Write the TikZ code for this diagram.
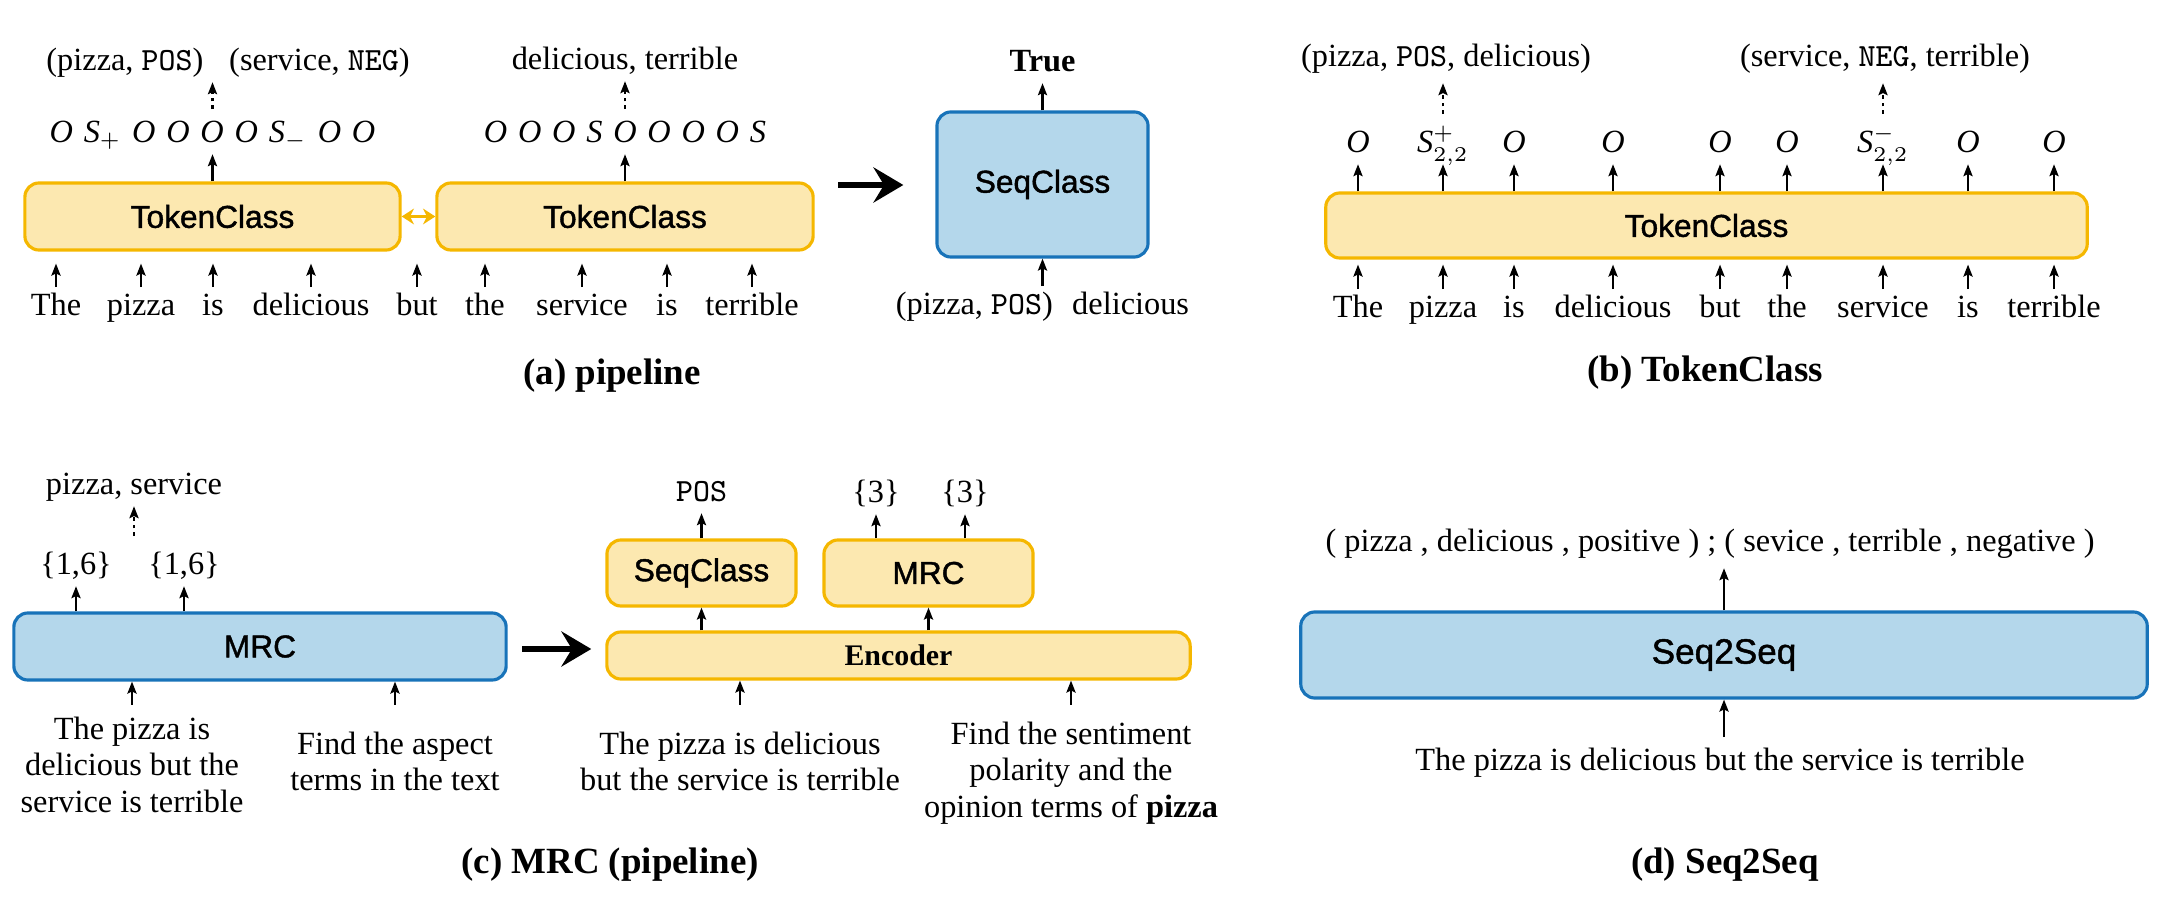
\documentclass[tikz,border=0pt]{standalone}
\usepackage{fontspec}
\setmainfont{Liberation Serif}
\newfontfamily\boxfont[FakeBold=1.3]{Liberation Sans}
\usetikzlibrary{arrows.meta, positioning, calc}

\definecolor{tokfill}{HTML}{FCE8B0}
\definecolor{tokdraw}{HTML}{F5B700}
\definecolor{seqfill}{HTML}{B4D7EB}
\definecolor{seqdraw}{HTML}{1873B9}
\newcommand{\txtsize}{\fontsize{9.2}{10.4}\selectfont}

\begin{document}
\begin{tikzpicture}[x=0.01cm, y=-0.01cm,
    txt/.style={font=\txtsize, inner sep=1pt, text height=7pt, text depth=2pt, anchor=base},
    para/.style={font=\txtsize, align=center, inner sep=0pt, anchor=north},
    captxt/.style={font=\bfseries\fontsize{10.5}{12}\selectfont, anchor=base},
    ybox/.style={draw=tokdraw, fill=tokfill, line width=0.9pt, rounded corners=4pt,
      font=\boxfont\fontsize{9}{10}\selectfont, inner sep=0pt},
    bbox/.style={ybox, draw=seqdraw, fill=seqfill},
    up/.style={-{Stealth[length=3.4pt, width=2.6pt, inset=0.6pt]}, line width=0.6pt},
    dotup/.style={up, dash pattern=on 1.1pt off 1.1pt},
    bigarrow/.style={-{Stealth[length=8.5pt, width=10pt, inset=3pt]}, line width=1.5pt},
    dblarrow/.style={{Stealth[length=3.5pt, width=4.5pt]}-{Stealth[length=3.5pt, width=4.5pt]}, draw=tokdraw, line width=0.8pt}]
    \useasboundingbox (0,0) rectangle (2164,907);

    % (a) pipeline
    \node[ybox, minimum width=3.75cm, minimum height=0.67cm] (tcA) at (212.5,216.5) {TokenClass};
    \node[ybox, minimum width=3.76cm, minimum height=0.67cm] (tcB) at (625,216.5) {TokenClass};
    \draw[dblarrow] (tcA) -- (tcB);

    \foreach \w/\x [count=\i] in {The/56, pizza/141, is/213, delicious/311, but/417, the/485, service/582, is/667, terrible/752} {
      \node[txt] (wa\i) at (\x,316) {\w};
      \draw[up, shorten >=0.12cm] (wa\i.north) -- (wa\i.north |- tcA.south);
    }

    \node[txt] (tagA) at (212.5,143) {\textit{O\,\,S}$_+$\,\,\textit{O\,\,O\,\,O\,\,O\,\,S}$_-$\,\,\textit{O\,\,O}};
    \node[txt] (tagB) at (625,143) {\textit{O\,\,O\,\,O\,\,S\,\,O\,\,O\,\,O\,\,O\,\,S}};
    \draw[up] (tcA.north) -- (tagA.south);
    \draw[up] (tcB.north) -- (tagB.south);

    \node[txt] (outA) at (228,71) {(pizza, \texttt{POS})\hspace{0.8em}(service, \texttt{NEG})};
    \node[txt] (outB) at (625,70) {delicious, terrible};
    \draw[dotup, shorten <=0.05cm] (tagA.north) -- (tagA.north |- outA.south);
    \draw[dotup, shorten <=0.05cm] (tagB.north) -- (tagB.north |- outB.south);

    % sequence classifier on the right
    \coordinate (bigA) at (838,185);
    \node[bbox, minimum width=2.11cm, minimum height=1.45cm] (scA) at (1042.5,184.5) {SeqClass};
    \draw[bigarrow, shorten >=0.32cm] (bigA) -- (bigA -| scA.west);
    \node[txt, font=\txtsize\bfseries] (trueA) at (1042.5,72) {True};
    \draw[up] (scA.north) -- (trueA.south);
    \node[txt] (inA) at (1042.5,315) {(pizza, \texttt{POS})\hspace{0.6em}delicious};
    \draw[up] (inA.north) -- (scA.south);

    \node[captxt] (capA) at (612,385) {(a) pipeline};

    % (b) TokenClass
    \node[ybox, minimum width=7.61cm, minimum height=0.65cm] (tcC) at (1706.5,225.5) {TokenClass};
    \coordinate (tagrowB) at (0,153);
    \foreach \w/\x [count=\i] in {The/1358, pizza/1443, is/1514, delicious/1613, but/1720, the/1787, service/1883, is/1968, terrible/2054} {
      \node[txt] (wb\i) at (\x,318) {\w};
      \draw[up, shorten >=0.05cm] (wb\i.north) -- (wb\i.north |- tcC.south);
    }
    \foreach \t [count=\i] in {{\textit{O}}, {\textit{S}$^{+}_{2,2}$}, {\textit{O}}, {\textit{O}}, {\textit{O}}, {\textit{O}}, {\textit{S}$^{-}_{2,2}$}, {\textit{O}}, {\textit{O}}} {
      \node[txt] (tb\i) at (wb\i.base |- tagrowB) {\t};
      \draw[up] (tb\i.south |- tcC.north) -- (tb\i.south);
    }
    \node[txt] (outC1) at (1446,67) {(pizza, \texttt{POS}, delicious)};
    \node[txt] (outC2) at (1885,67) {(service, \texttt{NEG}, terrible)};
    \draw[dotup, shorten <=0.1cm, shorten >=0.05cm] (tb2.north) -- (tb2.north |- outC1.south);
    \draw[dotup, shorten <=0.1cm, shorten >=0.05cm] (tb7.north) -- (tb7.north |- outC2.south);

    \node[captxt] (capB) at (1705,382) {(b) TokenClass};

    % (c) MRC (pipeline)
    \node[bbox, minimum width=4.92cm, minimum height=0.67cm] (mrcL) at (260,646.5) {MRC};
    \node[txt] (spanC1) at (76,575) {\{1,6\}};
    \node[txt] (spanC2) at (184,575) {\{1,6\}};
    \draw[up] (spanC1.south |- mrcL.north) -- (spanC1.south);
    \draw[up] (spanC2.south |- mrcL.north) -- (spanC2.south);
    \node[txt] (aspC) at (134,495) {pizza, service};
    \draw[dotup, shorten <=0.1cm] (aspC.south |- spanC1.north) -- (aspC.south);

    \node[para] (inC1) at (132,716) {The pizza is\\delicious but the\\service is terrible};
    \node[para] (inC2) at (395,731) {Find the aspect\\terms in the text};
    \draw[up, shorten <=0.11cm] (inC1.north) -- (inC1.north |- mrcL.south);
    \draw[up, shorten <=0.11cm] (inC2.north |- inC1.north) -- (inC2.north |- mrcL.south);

    \coordinate (bigC) at (522,649);
    \node[ybox, minimum width=5.83cm, minimum height=0.47cm, font=\fontsize{8.5}{10}\selectfont\bfseries] (encC) at (898.5,655.5) {Encoder};
    \draw[bigarrow, shorten >=0.14cm] (bigC) -- (bigC -| encC.west);
    \node[ybox, minimum width=1.89cm, minimum height=0.66cm] (scC) at (701.5,573) {SeqClass};
    \node[ybox, minimum width=2.09cm, minimum height=0.66cm] (mrcR) at (928.5,573) {MRC};
    \draw[up] (scC.south |- encC.north) -- (scC.south);
    \draw[up] (mrcR.south |- encC.north) -- (mrcR.south);

    \node[txt] (polC) at (701.5,502) {\texttt{POS}};
    \draw[up] (scC.north) -- (polC.south);
    \node[txt] (opC1) at (876,503) {\{3\}};
    \node[txt] (opC2) at (965,503) {\{3\}};
    \draw[up] (opC1.south |- mrcR.north) -- (opC1.south);
    \draw[up] (opC2.south |- mrcR.north) -- (opC2.south);

    \node[para] (inC3) at (740,731) {The pizza is delicious\\but the service is terrible};
    \node[para] (inC4) at (1071,721) {Find the sentiment\\polarity and the\\opinion terms of \textbf{pizza}};
    \draw[up, shorten <=0.11cm] (inC3.north |- inC1.north) -- (inC3.north |- encC.south);
    \draw[up, shorten <=0.11cm] (inC4.north |- inC1.north) -- (inC4.north |- encC.south);

    \node[captxt] (capC) at (610,873) {(c) MRC (pipeline)};

    % (d) Seq2Seq
    \node[bbox, minimum width=8.46cm, minimum height=0.86cm, font=\boxfont\fontsize{10}{12}\selectfont] (s2s) at (1724,655) {Seq2Seq};
    \node[txt] (outD) at (1710,552) {( pizza , delicious , positive ) ; ( sevice , terrible , negative )};
    \draw[up, shorten >=0.05cm] (s2s.north) -- (s2s.north |- outD.south);
    \node[txt] (inD) at (1720,770) {The pizza is delicious but the service is terrible};
    \draw[up, shorten <=0.04cm] (s2s.south |- inD.north) -- (s2s.south);

    \node[captxt] (capD) at (1725,873) {(d) Seq2Seq};
\end{tikzpicture}
\end{document}
